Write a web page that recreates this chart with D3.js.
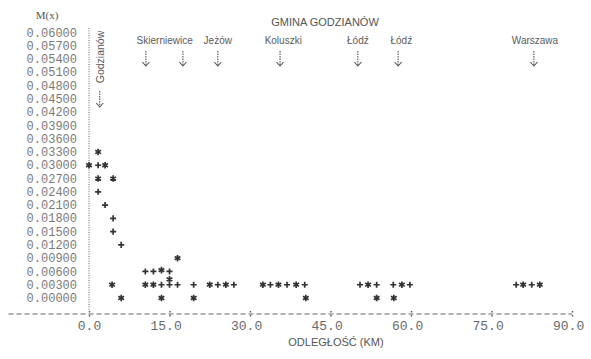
<!DOCTYPE html>
<html>
<head>
<meta charset="utf-8">
<script src="https://cdn.jsdelivr.net/npm/d3@7"></script>
<style>
  html, body { margin: 0; padding: 0; background: #fff; }
  svg { display: block; }
</style>
</head>
<body>
<svg id="chart" width="591" height="359"></svg>
<script>
// Distance from Godzianów (km) and M(x) value for each printed observation
const distances = [
  1.7, 0.0, 1.7, 3.0, 1.7, 4.5, 1.7, 3.0, 4.5, 4.5, 6.0, 4.3, 6.0,
  16.5, 10.5, 12.0, 13.5, 15.0, 15.0, 10.5, 12.0, 13.5, 15.0, 16.5, 19.5, 22.5, 13.5, 19.5,
  24.0, 25.5, 27.0,
  32.4, 33.8, 35.3, 36.9, 38.6, 40.2, 40.4,
  50.5, 52.0, 53.6, 53.6, 56.7, 56.8, 58.3, 59.8,
  79.6, 80.9, 82.5, 84.0
];
const values = [
  0.033, 0.030, 0.030, 0.030, 0.027, 0.027, 0.024, 0.021, 0.018, 0.015, 0.012, 0.003, 0.000,
  0.009, 0.006, 0.006, 0.0063, 0.006, 0.0042, 0.003, 0.003, 0.003, 0.003, 0.003, 0.003, 0.003, 0.000, 0.000,
  0.003, 0.003, 0.003,
  0.003, 0.003, 0.003, 0.003, 0.003, 0.003, 0.000,
  0.003, 0.003, 0.003, 0.000, 0.003, 0.000, 0.003, 0.003,
  0.003, 0.003, 0.003, 0.003
];
const marks = [
  "*", "*", "+", "*", "*", "*", "+", "+", "+", "+", "+", "*", "*",
  "*", "+", "+", "*", "+", "*", "*", "*", "+", "+", "+", "+", "*", "*", "*",
  "+", "*", "+",
  "*", "+", "*", "+", "*", "+", "*",
  "+", "*", "+", "*", "+", "*", "*", "+",
  "+", "*", "+", "*"
];

// Axis ticks
const yTicks = [0.06, 0.057, 0.054, 0.051, 0.048, 0.045, 0.042, 0.039, 0.036, 0.033, 0.030,
                0.027, 0.024, 0.021, 0.018, 0.015, 0.012, 0.009, 0.006, 0.003, 0.0];
const xTicks = [0, 15, 30, 45, 60, 75, 90];

// Reference places along the route (km from Godzianów)
const placeNames = ["Skierniewice", "Jeżów", "Koluszki", "Łódź", "Łódź", "Warszawa"];
const placeLabelKm = [14.1, 24.0, 36.2, 50.1, 58.2, 83.1];
const placeArrowKm = [[10.6, 17.5], [24.0], [35.6], [50.1], [57.6], [82.9]];
const originName = "Godzianów";
const originKm = 2.0;

const svg = d3.select("#chart");
const x = d3.scaleLinear().domain([0, 90]).range([89, 572]);
const y = d3.scaleLinear().domain([0, 0.06]).range([298, 32.5]);

const mono = "'Liberation Mono', 'DejaVu Sans Mono', monospace";
const sans = "'Liberation Sans', Arial, sans-serif";

// Y axis: labels only, the axis itself is a dotted printer line
const yAxis = svg.append("g")
  .attr("transform", `translate(${x(0)},0)`)
  .call(d3.axisLeft(y).tickValues(yTicks).tickSize(0).tickPadding(12)
        .tickFormat(d3.format(".5f")));
yAxis.select(".domain").remove();
yAxis.selectAll("text")
  .attr("font-family", mono).attr("font-size", 12)
  .attr("fill", "#7a7a7a").attr("dy", "0.3em");

svg.append("line")
  .attr("x1", x(0)).attr("x2", x(0))
  .attr("y1", 28).attr("y2", 311)
  .attr("stroke", "#666").attr("stroke-width", 1)
  .attr("stroke-dasharray", "1,1.4");

// X axis: dashed printer line with colon tick marks
const axisY = 314;
svg.append("line")
  .attr("x1", x(-15)).attr("x2", x(90))
  .attr("y1", axisY).attr("y2", axisY)
  .attr("stroke", "#666").attr("stroke-width", 1.1)
  .attr("stroke-dasharray", "5,3");

const xAxis = svg.append("g")
  .attr("transform", `translate(0,${axisY})`)
  .call(d3.axisBottom(x).tickValues(xTicks).tickSize(0).tickFormat(d3.format(".1f")));
xAxis.select(".domain").remove();
xAxis.selectAll(".tick").append("line")
  .attr("y1", -3).attr("y2", 3)
  .attr("stroke", "#555").attr("stroke-width", 1.4)
  .attr("stroke-dasharray", "1.6,2.4");
const cw = 13 * 0.6;
xAxis.selectAll(".tick text")
  .attr("font-family", mono).attr("font-size", 13)
  .attr("fill", "#6a6a6a")
  .attr("text-anchor", "end")
  .attr("x", 1.5 * cw)
  .attr("y", 11).attr("dy", "0.35em");

// Axis titles
svg.append("text")
  .attr("x", 47).attr("y", 15).attr("dy", "0.35em")
  .attr("text-anchor", "middle")
  .attr("font-family", "'Liberation Serif', serif").attr("font-size", 11)
  .attr("fill", "#555").text("M(x)");

svg.append("text")
  .attr("x", 336).attr("y", 342).attr("dy", "0.35em")
  .attr("text-anchor", "middle")
  .attr("font-family", sans).attr("font-size", 11)
  .attr("fill", "#555").text("ODLEGŁOŚĆ (KM)");

svg.append("text")
  .attr("x", 325).attr("y", 22).attr("dy", "0.35em")
  .attr("text-anchor", "middle")
  .attr("font-family", sans).attr("font-size", 11)
  .attr("fill", "#555").text("GMINA GODZIANÓW");

// Down arrow with dotted shaft
function arrow(g, cx, y0, y1) {
  g.append("line")
    .attr("x1", cx).attr("x2", cx).attr("y1", y0).attr("y2", y1)
    .attr("stroke", "#555").attr("stroke-width", 1.1)
    .attr("stroke-dasharray", "1.5,1");
  g.append("path")
    .attr("d", `M${cx - 3.5},${y1 - 4}L${cx},${y1}L${cx + 3.5},${y1 - 4}`)
    .attr("fill", "none").attr("stroke", "#555").attr("stroke-width", 1.1);
}

const places = svg.append("g");
placeNames.forEach((name, i) => {
  places.append("text")
    .attr("x", x(placeLabelKm[i])).attr("y", 40).attr("dy", "0.35em")
    .attr("text-anchor", "middle")
    .attr("font-family", sans).attr("font-size", 10)
    .attr("fill", "#5a5a5a").text(name);
  placeArrowKm[i].forEach(km => arrow(places, x(km), 51, 66));
});

// Origin marker, printed vertically
places.append("text")
  .attr("transform", `translate(${x(originKm) + 1},57) rotate(-90)`)
  .attr("dy", "0.35em")
  .attr("text-anchor", "middle")
  .attr("font-family", sans).attr("font-size", 10.5)
  .attr("fill", "#5a5a5a").text(originName);
arrow(places, x(originKm), 91, 107);

// Observations
const plus = d3.symbol().type(d3.symbolPlus).size(14);
const star = d3.symbol().type(d3.symbolAsterisk).size(30);
svg.append("g")
  .selectAll("path")
  .data(distances.map((d, i) => ({ km: d, v: values[i], m: marks[i] })))
  .join("path")
  .attr("transform", d => `translate(${x(d.km)},${y(d.v)})`)
  .attr("d", d => d.m === "+" ? plus() : star())
  .attr("fill", "none")
  .attr("stroke", "#333")
  .attr("stroke-width", 1.7);
</script>
</body>
</html>
